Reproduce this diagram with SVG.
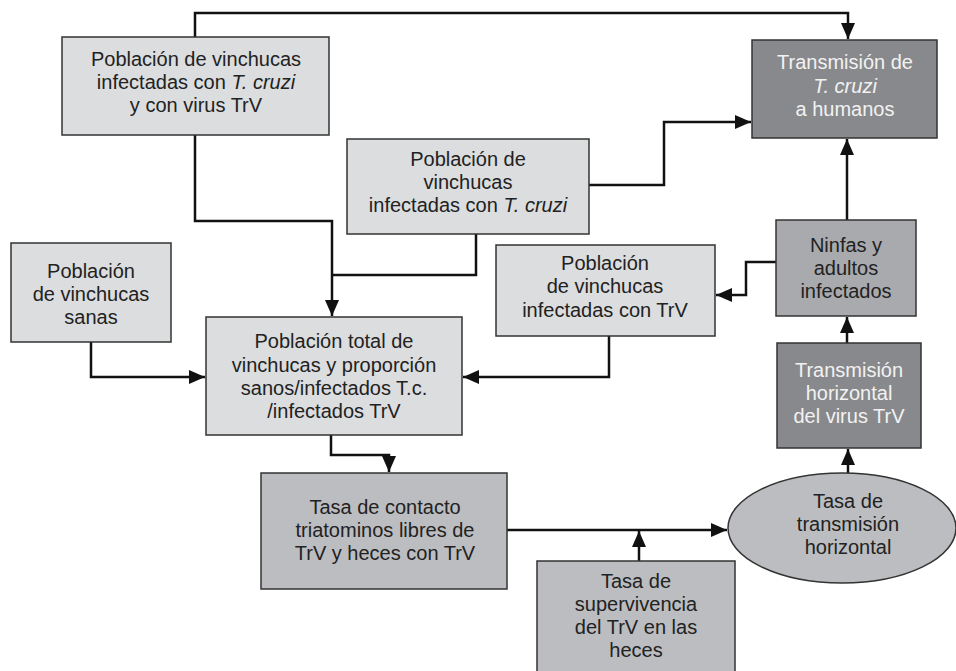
<svg xmlns="http://www.w3.org/2000/svg" width="956" height="671" viewBox="0 0 956 671">
<defs>
<marker id="ah" markerUnits="userSpaceOnUse" markerWidth="16" markerHeight="14" refX="16" refY="7" orient="auto">
<path d="M0,0 L16,7 L0,14 z" fill="#111"/>
</marker>
<style>
.box{stroke:#333;stroke-width:1.5}
.l1{fill:#dcdddf}
.l2{fill:#bcbdc0}
.l3{fill:#a9aaad}
.d{fill:#88898c}
text{font-family:"Liberation Sans",Arial,Helvetica,sans-serif;font-size:20px;fill:#222;text-anchor:middle}
.w{fill:#f2f2f2}
.c{fill:none;stroke:#111;stroke-width:2.5}
.a{marker-end:url(#ah)}
</style>
</defs>
<rect width="956" height="671" fill="#fff"/>
<g id="connectors">
<path class="c a" d="M195,37 V13 H848 V39"/>
<path class="c a" d="M195,135 V221 H332 V316"/>
<path class="c" d="M476,234 V275 H332"/>
<path class="c a" d="M589,185 H664 V122 H751"/>
<path class="c a" d="M91,342 V377 H205"/>
<path class="c a" d="M609,336 V377 H463"/>
<path class="c a" d="M776,262 H746 V295 H716"/>
<path class="c a" d="M847,220 V139"/>
<path class="c a" d="M847,343 V317"/>
<path class="c a" d="M848,473 V449"/>
<path class="c a" d="M331,435 V455 H389 V472"/>
<path class="c a" d="M507,530 H727"/>
<path class="c a" d="M639,561 V531"/>
</g>
<g id="n1">
<rect class="box l1" x="62" y="37" width="267" height="98"/>
<text x="196" y="66">Población de vinchucas</text>
<text x="196" y="89">infectadas con <tspan font-style="italic">T. cruzi</tspan></text>
<text x="196" y="112">y con virus TrV</text>
</g>
<g id="n2">
<rect class="box d" x="752" y="40" width="185" height="98"/>
<text class="w" x="845" y="69">Transmisión de</text>
<text class="w" x="845" y="93" font-style="italic">T. cruzi</text>
<text class="w" x="845" y="116">a humanos</text>
</g>
<g id="n3">
<rect class="box l1" x="347" y="139" width="242" height="95"/>
<text x="468" y="166">Población de</text>
<text x="468" y="189">vinchucas</text>
<text x="468" y="212">infectadas con <tspan font-style="italic">T. cruzi</tspan></text>
</g>
<g id="n4">
<rect class="box l1" x="11" y="243" width="160" height="99"/>
<text x="91" y="278">Población</text>
<text x="91" y="301">de vinchucas</text>
<text x="91" y="324">sanas</text>
</g>
<g id="n5">
<rect class="box l1" x="206" y="317" width="256" height="118"/>
<text x="334" y="348">Población total de</text>
<text x="334" y="372">vinchucas y proporción</text>
<text x="334" y="395">sanos/infectados T.c.</text>
<text x="334" y="418">/infectados TrV</text>
</g>
<g id="n6">
<rect class="box l1" x="496" y="245" width="219" height="91"/>
<text x="605" y="270">Población</text>
<text x="605" y="293">de vinchucas</text>
<text x="605" y="317">infectadas con TrV</text>
</g>
<g id="n7">
<rect class="box l3" x="776" y="220" width="140" height="96"/>
<text x="846" y="252">Ninfas y</text>
<text x="846" y="275">adultos</text>
<text x="846" y="298">infectados</text>
</g>
<g id="n8">
<rect class="box d" x="777" y="343" width="144" height="105"/>
<text class="w" x="849" y="377">Transmisión</text>
<text class="w" x="849" y="400">horizontal</text>
<text class="w" x="849" y="423">del virus TrV</text>
</g>
<g id="n9">
<rect class="box l2" x="261" y="473" width="246" height="116"/>
<text x="385" y="514">Tasa de contacto</text>
<text x="385" y="537">triatominos libres de</text>
<text x="385" y="560">TrV y heces con TrV</text>
</g>
<g id="n10">
<ellipse class="box l2" cx="842" cy="528" rx="114" ry="55"/>
<text x="848" y="508">Tasa de</text>
<text x="848" y="531">transmisión</text>
<text x="848" y="554">horizontal</text>
</g>
<g id="n11">
<rect class="box l2" x="537" y="561" width="198" height="120"/>
<text x="636" y="588">Tasa de</text>
<text x="636" y="611">supervivencia</text>
<text x="636" y="634">del TrV en las</text>
<text x="636" y="657">heces</text>
</g>
</svg>
